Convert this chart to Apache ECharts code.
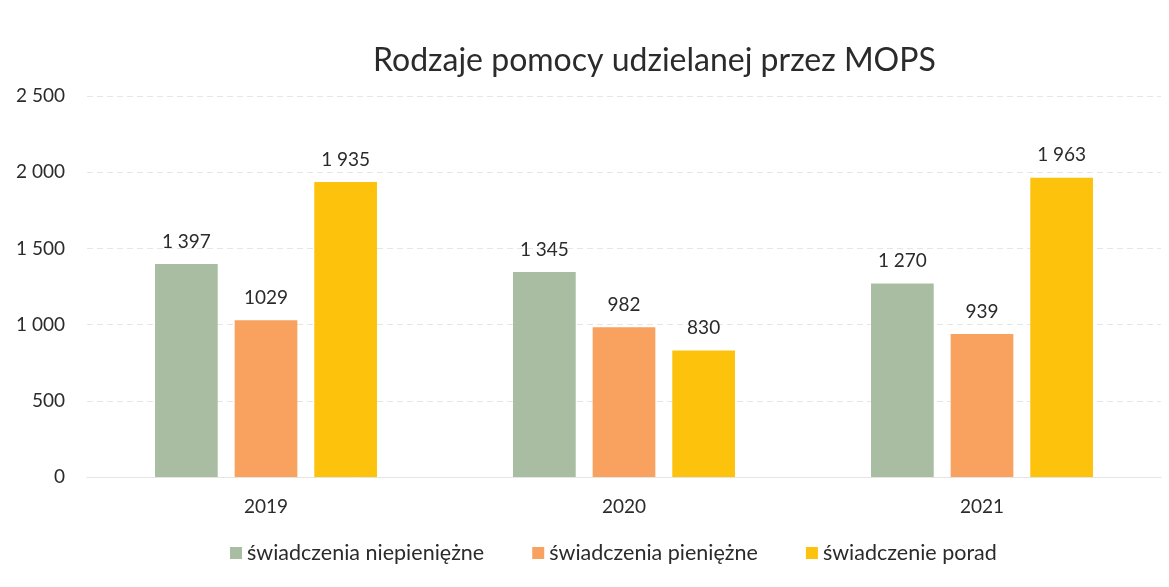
<!DOCTYPE html>
<html>
<head>
<meta charset="utf-8">
<script src="https://cdn.jsdelivr.net/npm/echarts@6/dist/echarts.min.js"></script>
<style>
  html, body { margin: 0; padding: 0; background: #fff; }
  #main { width: 1169px; height: 587px; }
</style>
</head>
<body>
<div id="main"></div>
<script>
// dane z wykresu
var years = ['2019', '2020', '2021'];
var niepieniezne = [1397, 1345, 1270];
var pieniezne = [1029, 982, 939];
var porady = [1935, 830, 1963];
var seriesNames = ['świadczenia niepieniężne', 'świadczenia pieniężne', 'świadczenie porad'];
var yTicks = [0, 500, 1000, 1500, 2000, 2500];

var chart = echarts.init(document.getElementById('main'));

// separator tysięcy jak w Excelu (spacja)
function fmt(v, grouped) {
  if (!grouped) return String(v);
  return String(v).replace(/\B(?=(\d{3})+(?!\d))/g, ' ');
}

function barSeries(name, data, color, grouped) {
  return {
    name: name,
    type: 'bar',
    data: data,
    barGap: '27%',
    barCategoryGap: '38%',
    itemStyle: { color: color },
    label: {
      show: true,
      position: 'top',
      distance: 13,
      color: '#2b2b2b',
      fontSize: 19,
      fontFamily: 'Lato',
      formatter: function (p) { return fmt(p.value, grouped); }
    }
  };
}

var option = {
  backgroundColor: '#ffffff',
  title: {
    text: 'Rodzaje pomocy udzielanej przez MOPS',
    left: 368,
    top: 40,
    textStyle: { fontSize: 32, fontWeight: 'normal', color: '#2b2b2b', fontFamily: 'Lato' }
  },
  legend: {
    bottom: 18,
    left: 225,
    itemWidth: 12,
    itemHeight: 12,
    itemGap: 48,
    icon: 'rect',
    textStyle: { fontSize: 21.5, color: '#2b2b2b', fontFamily: 'Lato' },
    data: seriesNames
  },
  grid: { left: 87, right: 8, top: 96, bottom: 110 },
  xAxis: {
    type: 'category',
    data: years,
    axisLine: { lineStyle: { color: '#e4e4e4' } },
    axisTick: { show: false },
    axisLabel: { color: '#2b2b2b', fontSize: 19, margin: 20, fontFamily: 'Lato' }
  },
  yAxis: {
    type: 'value',
    min: yTicks[0],
    max: yTicks[yTicks.length - 1],
    interval: 500,
    axisLine: { show: false },
    axisTick: { show: false },
    splitLine: { lineStyle: { color: '#e6e6e6', type: [6, 4] } },
    axisLabel: {
      color: '#2b2b2b', fontSize: 19, margin: 22, fontFamily: 'Lato',
      formatter: function (v) { return fmt(v, true); }
    }
  },
  series: [
    barSeries(seriesNames[0], niepieniezne, '#a9bda3', true),
    barSeries(seriesNames[1], pieniezne, '#f9a15e', false),
    barSeries(seriesNames[2], porady, '#fdc20c', true)
  ]
};

chart.setOption(option);
</script>
</body>
</html>
